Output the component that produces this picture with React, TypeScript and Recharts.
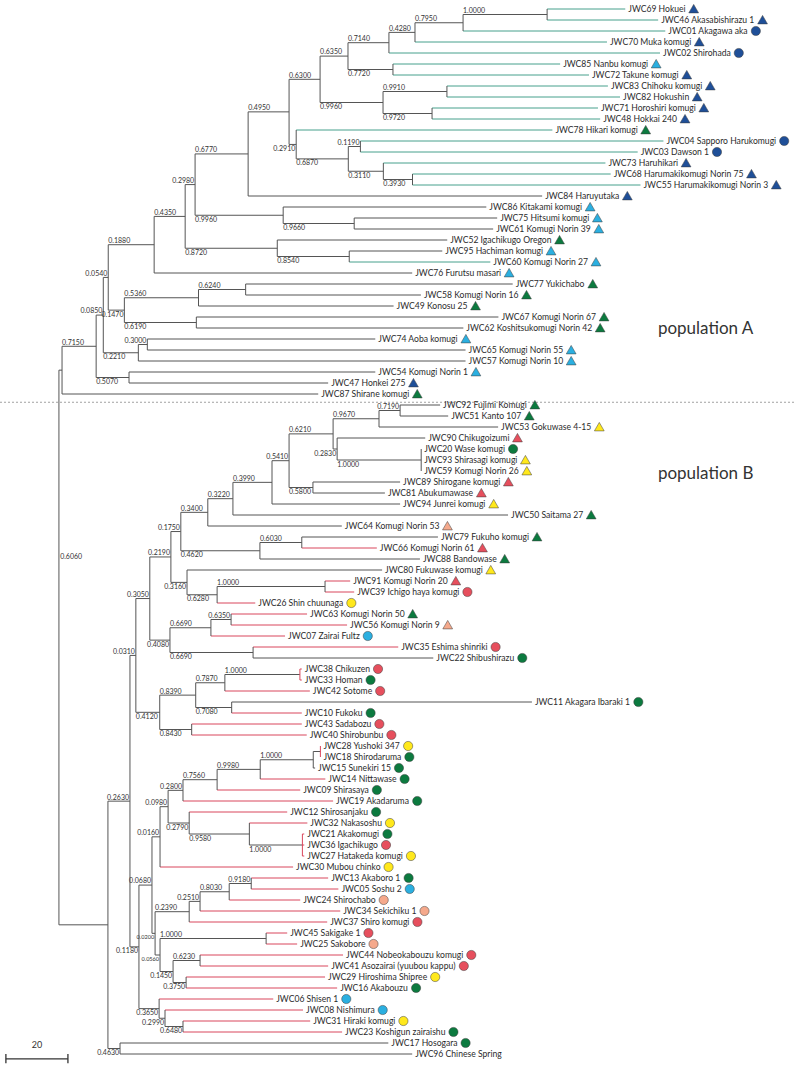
import { ComposedChart, XAxis, YAxis, Scatter, ReferenceLine } from "recharts"

// internal nodes of the tree: [id, parent, branch length, bootstrap]
const clades: [string, string, number, string][] = [
  ["a35", "root", 1.0, ""],
  ["a32", "a35", 11.0, "0.7150"],
  ["a30", "a32", 2.3, "0.0850"],
  ["a25", "a30", 1.6, "0.0540"],
  ["a24", "a25", 14.8, "0.1880"],
  ["a19", "a24", 10.0, "0.4350"],
  ["a18", "a19", 3.2, "0.2980"],
  ["a17", "a18", 17.1, "0.6770"],
  ["a16", "a17", 13.2, "0.4950"],
  ["a7", "a16", 10.0, "0.6300"],
  ["a6", "a7", 9.0, "0.6350"],
  ["a4", "a6", 13.2, "0.7140"],
  ["a3", "a4", 8.4, "0.4280"],
  ["a2", "a3", 15.5, "0.7950"],
  ["a1", "a2", 27.1, "1.0000"],
  ["a5", "a6", 14.5, "0.7720"],
  ["a8", "a7", 20.3, "0.9960"],
  ["a9", "a8", 20.6, "0.9910"],
  ["a10", "a8", 15.8, "0.9720"],
  ["a11", "a16", 2.3, "0.2910"],
  ["a12", "a11", 16.8, "0.6870"],
  ["a13", "a12", 3.9, "0.1190"],
  ["a14", "a12", 11.3, "0.3110"],
  ["a15", "a14", 9.4, "0.3930"],
  ["a21", "a18", 28.4, "0.9960"],
  ["a22", "a21", 22.9, "0.9660"],
  ["a20", "a19", 29.7, "0.8720"],
  ["a23", "a20", 23.2, "0.8540"],
  ["a26", "a25", 5.2, "0.1470"],
  ["a27", "a26", 23.9, "0.5360"],
  ["a29", "a27", 15.2, "0.6240"],
  ["a28", "a26", 23.2, "0.6190"],
  ["a31", "a30", 11.3, "0.2210"],
  ["a34", "a31", 2.9, "0.3000"],
  ["a33", "a32", 10.6, "0.5070"],
  ["f1", "root", 15.8, ""],
  ["b32", "f1", 7.1, "0.2630"],
  ["b24", "b32", 1.9, "0.0310"],
  ["b19", "b24", 4.5, "0.3050"],
  ["b15", "b19", 6.8, "0.2190"],
  ["b12", "b15", 3.2, "0.1750"],
  ["b11", "b12", 8.7, "0.3400"],
  ["b10", "b11", 8.1, "0.3220"],
  ["b9", "b10", 12.6, "0.3990"],
  ["b7", "b9", 5.5, "0.5410"],
  ["b3", "b7", 14.2, "0.6210"],
  ["b2", "b3", 14.8, "0.9670"],
  ["b1", "b2", 6.8, "0.7190"],
  ["b4", "b3", 1.3, "0.2830"],
  ["b5", "b4", 27.1, "1.0000"],
  ["b8", "b7", 7.7, "0.5800"],
  ["b13", "b12", 25.5, "0.4620"],
  ["b14", "b13", 13.5, "0.6030"],
  ["b16", "b15", 5.2, "0.3160"],
  ["b17", "b16", 9.7, "0.6280"],
  ["b18", "b17", 34.8, "1.0000"],
  ["b20", "b19", 6.5, "0.4080"],
  ["b21", "b20", 13.2, "0.6690"],
  ["b23", "b21", 6.5, "0.6350"],
  ["b22", "b20", 26.8, "0.6690"],
  ["b25", "b24", 7.7, "0.4120"],
  ["b26", "b25", 11.6, "0.8390"],
  ["b28", "b26", 9.4, "0.7870"],
  ["b30", "b28", 24.2, "1.0000"],
  ["b29", "b26", 11.6, "0.7080"],
  ["b27", "b25", 10.3, "0.8430"],
  ["b33", "b32", 2.9, "0.1180"],
  ["b34", "b33", 4.2, "0.0680"],
  ["c1", "b34", 2.6, "0.0160"],
  ["c2", "c1", 2.6, "0.0980"],
  ["c3", "c2", 4.8, "0.2800"],
  ["c5", "c3", 11.0, "0.7560"],
  ["c6", "c5", 13.9, "0.9980"],
  ["c7", "c6", 17.1, "1.0000"],
  ["c8", "c7", 2.3, ""],
  ["c4", "c2", 6.8, "0.2790"],
  ["c9", "c4", 19.4, "0.9580"],
  ["c10", "c9", 17.1, "1.0000"],
  ["e2", "b34", 1.0, "0.0200"],
  ["c15", "e2", 11.0, "0.2390"],
  ["c14", "c15", 3.5, "0.2510"],
  ["c13", "c14", 9.4, "0.8030"],
  ["c12", "c13", 7.1, "0.9180"],
  ["e1", "e2", 1.6, "0.0560"],
  ["d1", "e1", 34.2, "1.0000"],
  ["d3", "e1", 4.2, "0.1450"],
  ["d2", "d3", 8.7, "0.6230"],
  ["d4", "d3", 4.2, "0.3750"],
  ["b35", "b33", 6.5, "0.3650"],
  ["b36", "b35", 1.9, "0.2990"],
  ["b37", "b36", 5.8, "0.6480"],
  ["f2", "f1", 3.9, "0.4630"],
]

// leaves, top to bottom: [name, parent, branch length, marker, branch tint]
// marker: t = triangle, c = circle; D dark blue, L light blue, G green, Y yellow, R red, S salmon
// tint: k grey, t teal, r red
const taxa: [string, string, number, string, string][] = [
  ["JWC69 Hokuei", "a1", 25.2, "tD", "t"],
  ["JWC46 Akasabishirazu 1", "a1", 35.8, "tD", "t"],
  ["JWC01 Akagawa aka", "a2", 65.2, "cD", "t"],
  ["JWC70 Muka komugi", "a3", 61.9, "tD", "t"],
  ["JWC02 Shirohada", "a4", 87.4, "cD", "t"],
  ["JWC85 Nanbu komugi", "a5", 53.9, "tL", "t"],
  ["JWC72 Takune komugi", "a5", 63.2, "tD", "t"],
  ["JWC83 Chihoku komugi", "a9", 51.9, "tD", "t"],
  ["JWC82 Hokushin", "a9", 55.8, "tD", "t"],
  ["JWC71 Horoshiri komugi", "a10", 53.5, "tD", "t"],
  ["JWC48 Hokkai 240", "a10", 54.2, "tD", "t"],
  ["JWC78 Hikari komugi", "a11", 82.6, "tG", "t"],
  ["JWC04 Sapporo Harukomugi", "a13", 97.7, "cD", "t"],
  ["JWC03 Dawson 1", "a13", 89.4, "cD", "t"],
  ["JWC73 Haruhikari", "a14", 71.6, "tD", "t"],
  ["JWC68 Harumakikomugi Norin 75", "a15", 63.9, "tD", "t"],
  ["JWC55 Harumakikomugi Norin 3", "a15", 73.5, "tD", "t"],
  ["JWC84 Haruyutaka", "a17", 94.8, "tD", "k"],
  ["JWC86 Kitakami komugi", "a21", 65.5, "tL", "k"],
  ["JWC75 Hitsumi komugi", "a22", 46.1, "tL", "k"],
  ["JWC61 Komugi Norin 39", "a22", 44.8, "tL", "k"],
  ["JWC52 Igachikugo Oregon", "a20", 54.8, "tG", "k"],
  ["JWC95 Hachiman komugi", "a23", 30.0, "tL", "k"],
  ["JWC60 Komugi Norin 27", "a23", 45.5, "tL", "t"],
  ["JWC76 Furutsu masari", "a24", 83.2, "tL", "k"],
  ["JWC77 Yukichabo", "a29", 86.1, "tG", "k"],
  ["JWC58 Komugi Norin 16", "a29", 56.5, "tG", "k"],
  ["JWC49 Konosu 25", "a27", 62.9, "tG", "k"],
  ["JWC67 Komugi Norin 67", "a28", 97.4, "tG", "k"],
  ["JWC62 Koshitsukomugi Norin 42", "a28", 86.1, "tG", "k"],
  ["JWC74 Aoba komugi", "a34", 73.5, "tL", "k"],
  ["JWC65 Komugi Norin 55", "a34", 102.6, "tL", "k"],
  ["JWC57 Komugi Norin 10", "a31", 105.5, "tL", "k"],
  ["JWC54 Komugi Norin 1", "a33", 79.4, "tL", "k"],
  ["JWC47 Honkei 275", "a33", 64.2, "tD", "k"],
  ["JWC87 Shirane komugi", "a35", 82.6, "tG", "k"],
  ["JWC92 Fujimi Komugi", "b1", 12.9, "tG", "k"],
  ["JWC51 Kanto 107", "b1", 15.5, "tG", "k"],
  ["JWC53 Gokuwase 4-15", "b2", 38.4, "tY", "k"],
  ["JWC90 Chikugoizumi", "b4", 28.4, "tR", "k"],
  ["JWC20 Wase komugi", "b5", 0, "cG", "k"],
  ["JWC93 Shirasagi komugi", "b5", 0, "tY", "k"],
  ["JWC59 Komugi Norin 26", "b5", 0, "tY", "k"],
  ["JWC89 Shirogane komugi", "b8", 28.1, "tR", "k"],
  ["JWC81 Abukumawase", "b8", 23.2, "tR", "k"],
  ["JWC94 Junrei komugi", "b9", 41.3, "tY", "k"],
  ["JWC50 Saitama 27", "b10", 88.7, "tG", "k"],
  ["JWC64 Komugi Norin 53", "b11", 43.2, "tS", "k"],
  ["JWC79 Fukuho komugi", "b14", 43.9, "tG", "k"],
  ["JWC66 Komugi Norin 61", "b14", 24.2, "tR", "r"],
  ["JWC88 Bandowase", "b13", 51.6, "tG", "k"],
  ["JWC80 Fukuwase komugi", "b16", 62.9, "tY", "k"],
  ["JWC91 Komugi Norin 20", "b18", 8.1, "tR", "r"],
  ["JWC39 Ichigo haya komugi", "b18", 9.4, "cR", "r"],
  ["JWC26 Shin chuunaga", "b17", 12.3, "cY", "r"],
  ["JWC63 Komugi Norin 50", "b23", 24.5, "tG", "r"],
  ["JWC56 Komugi Norin 9", "b23", 37.4, "tS", "r"],
  ["JWC07 Zairai Fultz", "b21", 23.9, "cL", "r"],
  ["JWC35 Eshima shinriki", "b22", 46.8, "cR", "r"],
  ["JWC22 Shibushirazu", "b22", 58.1, "cG", "k"],
  ["JWC38 Chikuzen", "b30", 0.6, "cR", "r"],
  ["JWC33 Homan", "b30", 0.6, "cG", "r"],
  ["JWC42 Sotome", "b28", 27.4, "cR", "r"],
  ["JWC11 Akagara Ibaraki 1", "b29", 96.8, "cG", "k"],
  ["JWC10 Fukoku", "b29", 22.6, "cG", "r"],
  ["JWC43 Sadabozu", "b27", 35.5, "cR", "r"],
  ["JWC40 Shirobunbu", "b27", 37.1, "cR", "r"],
  ["JWC28 Yushoki 347", "c8", 0, "cY", "r"],
  ["JWC18 Shirodaruma", "c8", 0, "cG", "r"],
  ["JWC15 Sunekiri 15", "c7", 0.6, "cG", "k"],
  ["JWC14 Nittawase", "c6", 21.0, "cG", "r"],
  ["JWC09 Shirasaya", "c5", 26.8, "cG", "r"],
  ["JWC19 Akadaruma", "c3", 48.4, "cG", "r"],
  ["JWC12 Shirosanjaku", "c4", 31.6, "cG", "r"],
  ["JWC32 Nakasoshu", "c9", 18.7, "cY", "r"],
  ["JWC21 Akakomugi", "c10", 0.6, "cG", "r"],
  ["JWC36 Igachikugo", "c10", 0.6, "cR", "r"],
  ["JWC27 Hatakeda komugi", "c10", 0.6, "cY", "r"],
  ["JWC30 Mubou chinko", "c1", 42.9, "cY", "r"],
  ["JWC13 Akaboro 1", "c12", 24.8, "cG", "r"],
  ["JWC05 Soshu 2", "c12", 28.1, "cL", "r"],
  ["JWC24 Shirochabo", "c13", 22.9, "cS", "r"],
  ["JWC34 Sekichiku 1", "c14", 45.2, "cS", "r"],
  ["JWC37 Shiro komugi", "c15", 44.5, "cR", "r"],
  ["JWC45 Sakigake 1", "d1", 6.8, "cR", "r"],
  ["JWC25 Sakobore", "d1", 10.0, "cS", "r"],
  ["JWC44 Nobeokabouzu komugi", "d2", 46.1, "cR", "r"],
  ["JWC41 Asozairai (yuubou kappu)", "d2", 41.3, "cR", "r"],
  ["JWC29 Hiroshima Shipree", "d4", 44.8, "cY", "r"],
  ["JWC16 Akabouzu", "d4", 48.7, "cG", "r"],
  ["JWC06 Shisen 1", "b35", 36.8, "cL", "r"],
  ["JWC08 Nishimura", "b36", 44.5, "cL", "r"],
  ["JWC31 Hiraki komugi", "b37", 41.0, "cY", "r"],
  ["JWC23 Koshigun zairaishu", "b37", 51.3, "cG", "r"],
  ["JWC17 Hosogara", "f2", 86.5, "cG", "k"],
  ["JWC96 Chinese Spring", "f2", 94.2, "", "k"],
]

const rootSupport = "0.6060"
const scaleBarLength = 20
const groupNames = ["population A", "population B"]

const W = 794
const H = 1067
const X_DOMAIN: [number, number] = [-19, 237]
const PX_PER_UNIT = W / (X_DOMAIN[1] - X_DOMAIN[0])
const ROW_PX = 11
const FIRST_ROW_PX = 9
const Y_DOMAIN: [number, number] = [-FIRST_ROW_PX / ROW_PX, (H - FIRST_ROW_PX) / ROW_PX]

const FONT = "Lato, 'Open Sans', sans-serif"
const LEAF_FONT = 8.6
const SUPPORT_FONT = 7
const LINE = "#555555"
const TINTS: Record<string, string> = { k: LINE, t: "#46a08c", r: "#d9475c" }
const FILLS: Record<string, string> = {
  D: "#1f4f98",
  L: "#2bafe0",
  G: "#0c7a3f",
  Y: "#ffe81c",
  R: "#e64f5d",
  S: "#f5a98c",
}

const ctx = typeof document !== "undefined" ? document.createElement("canvas").getContext("2d") : null
function textWidth(s: string, size: number) {
  if (!ctx) return s.length * size * 0.5
  ctx.font = `${size}px Lato`
  return ctx.measureText(s).width
}

// tree layout
const parentOf = new Map<string, string>()
const lengthOf = new Map<string, number>()
const children = new Map<string, string[]>()
const leafRow = new Map<string, number>()
const addNode = (id: string, p: string, l: number) => {
  parentOf.set(id, p)
  lengthOf.set(id, l)
  if (!children.has(p)) children.set(p, [])
  children.get(p)!.push(id)
}
clades.forEach(([id, p, l]) => addNode(id, p, l))
taxa.forEach(([name, p, l], i) => {
  addNode(name, p, l)
  leafRow.set(name, i)
})

const depthMemo = new Map<string, number>()
function depthOf(id: string): number {
  if (id === "root") return 0
  if (depthMemo.has(id)) return depthMemo.get(id)!
  const d = depthOf(parentOf.get(id)!) + lengthOf.get(id)!
  depthMemo.set(id, d)
  return d
}
const rowMemo = new Map<string, number>()
function rowOf(id: string): number {
  if (leafRow.has(id)) return leafRow.get(id)!
  if (rowMemo.has(id)) return rowMemo.get(id)!
  const rows = children.get(id)!.map(rowOf)
  const r = (Math.min(...rows) + Math.max(...rows)) / 2
  rowMemo.set(id, r)
  return r
}
const span = (id: string) => {
  const rows = children.get(id)!.map(rowOf)
  return [Math.min(...rows), Math.max(...rows)]
}

const tintOf = new Map<string, string>(taxa.map(([n, , , , t]) => [n, t]))

const horizontal = [...clades.map((c) => c[0]), ...taxa.map((t) => t[0])]
  .filter((id) => lengthOf.get(id)! > 0)
  .map((id) => ({
    x1: depthOf(parentOf.get(id)!),
    x2: depthOf(id),
    y: rowOf(id),
    color: TINTS[tintOf.get(id) ?? "k"],
  }))

const vertical = ["root", ...clades.map((c) => c[0])].map((id) => {
  const kids = children.get(id)!
  const [r1, r2] = span(id)
  const allTinted = kids.every((k) => tintOf.get(k) === "r" && lengthOf.get(k)! < 1)
  return { x: depthOf(id), y1: r1, y2: r2, color: allTinted ? TINTS.r : LINE }
})

const leafPoints = taxa.map(([name, , , marker]) => ({
  x: depthOf(name),
  y: rowOf(name),
  name,
  marker,
}))

const supportPoints = clades
  .filter((c) => c[3] !== "")
  .map(([id, p, , s]) => {
    const small = s === "0.0200" || s === "0.0560"
    const size = small ? 5.6 : SUPPORT_FONT
    const w = textWidth(s, size) / PX_PER_UNIT + 0.3
    return {
      x: Math.min(depthOf(p), depthOf(id) - w),
      y: rowOf(id),
      text: s,
      size,
      below: rowOf(id) > rowOf(p),
    }
  })

const notes = [
  { x: (658 - 59) / PX_PER_UNIT, y: 29.0, text: groupNames[0], size: 17, anchor: "start" },
  { x: (658 - 59) / PX_PER_UNIT, y: 42.2, text: groupNames[1], size: 17, anchor: "start" },
  { x: -7.1, y: 94.2, text: String(scaleBarLength), size: 9, anchor: "middle" },
  { x: 0.4, y: 49.8, text: rootSupport, size: SUPPORT_FONT, anchor: "start" },
]

function LeafShape(props: any) {
  const { cx, cy, payload } = props
  if (cx == null || cy == null) return null
  const tx = cx + 3
  const mx = tx + textWidth(payload.name, LEAF_FONT) + 8
  const kind = payload.marker.charAt(0)
  const fill = FILLS[payload.marker.charAt(1)]
  return (
    <g>
      <text x={tx} y={cy} dy="0.33em" fontSize={LEAF_FONT} fontFamily={FONT} fill="#2b2b2b">
        {payload.name}
      </text>
      {kind === "t" && (
        <polygon
          points={`${mx},${cy - 4.6} ${mx - 4.9},${cy + 3.9} ${mx + 4.9},${cy + 3.9}`}
          fill={fill}
          stroke="#3a3a3a"
          strokeWidth={0.5}
        />
      )}
      {kind === "c" && <circle cx={mx} cy={cy} r={4.6} fill={fill} stroke="#3a3a3a" strokeWidth={0.5} />}
    </g>
  )
}

function SupportShape(props: any) {
  const { cx, cy, payload } = props
  if (cx == null || cy == null) return null
  const y = payload.below ? cy + 1.5 + payload.size * 0.72 : cy - 1.6
  return (
    <text x={cx} y={y} fontSize={payload.size} fontFamily={FONT} fill="#333">
      {payload.text}
    </text>
  )
}

function NoteShape(props: any) {
  const { cx, cy, payload } = props
  if (cx == null || cy == null) return null
  return (
    <text x={cx} y={cy} dy="0.35em" textAnchor={payload.anchor} fontSize={payload.size} fontFamily={FONT} fill="#333">
      {payload.text}
    </text>
  )
}

export default function App() {
  const barLeft = -17.1
  const barRow = 95.45
  return (
    <div style={{ position: "absolute", left: 0, top: 0, width: W, height: H, background: "#fff" }}>
      <ComposedChart width={W} height={H} margin={{ top: 0, right: 0, bottom: 0, left: 0 }}>
        <XAxis type="number" dataKey="x" domain={X_DOMAIN} hide allowDataOverflow />
        <YAxis type="number" dataKey="y" domain={Y_DOMAIN} reversed hide allowDataOverflow />
        <ReferenceLine y={35.75} stroke="#8a8a8a" strokeDasharray="2 2" strokeWidth={0.8} />
        {horizontal.map((s, i) => (
          <ReferenceLine
            key={`h${i}`}
            segment={[
              { x: s.x1, y: s.y },
              { x: s.x2, y: s.y },
            ]}
            stroke={s.color}
            strokeWidth={1}
          />
        ))}
        {vertical.map((s, i) => (
          <ReferenceLine
            key={`v${i}`}
            segment={[
              { x: s.x, y: s.y1 },
              { x: s.x, y: s.y2 },
            ]}
            stroke={s.color}
            strokeWidth={1}
          />
        ))}
        <ReferenceLine
          segment={[
            { x: barLeft, y: barRow },
            { x: barLeft + scaleBarLength, y: barRow },
          ]}
          stroke="#333"
          strokeWidth={1.3}
        />
        {[barLeft, barLeft + scaleBarLength].map((x) => (
          <ReferenceLine
            key={`t${x}`}
            segment={[
              { x, y: barRow - 0.45 },
              { x, y: barRow + 0.4 },
            ]}
            stroke="#333"
            strokeWidth={1.3}
          />
        ))}
        <Scatter data={supportPoints} shape={SupportShape} isAnimationActive={false} />
        <Scatter data={leafPoints} shape={LeafShape} isAnimationActive={false} />
        <Scatter data={notes} shape={NoteShape} isAnimationActive={false} />
      </ComposedChart>
    </div>
  )
}
